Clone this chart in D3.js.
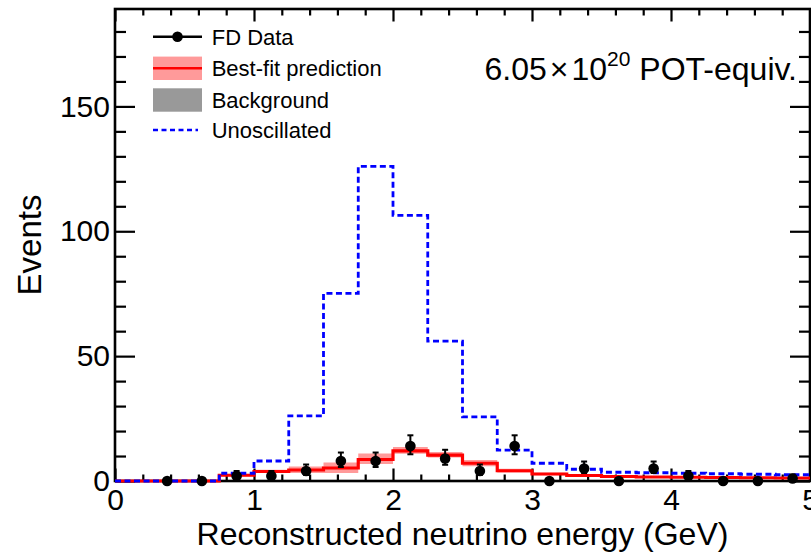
<!DOCTYPE html>
<html>
<head>
<meta charset="utf-8">
<script src="https://cdn.jsdelivr.net/npm/d3@7"></script>
<style>
  html, body { margin: 0; padding: 0; background: #fff; }
  svg { display: block; font-family: "Liberation Sans", Arial, Helvetica, sans-serif; }
</style>
</head>
<body>
<svg id="chart" width="811" height="555"></svg>
<script>
// ---- Data ----
const binEdges = [0, 0.25, 0.5, 0.75, 1, 1.25, 1.5, 1.75, 2, 2.25, 2.5, 2.75, 3, 3.25, 3.5, 3.75, 4, 4.25, 4.5, 4.75, 5];
const bestFit    = [0, 0, 0, 2.3, 3.8, 4.4, 5.2, 8.6, 12.1, 10.4, 7.1, 4.1, 2.8, 2.2, 1.8, 1.6, 1.5, 1.4, 1.3, 1.2];
const bandLow    = [0, 0, 0, 1.9, 3.2, 3.2, 3.2, 6.8, 10.9, 9.4, 5.9, 3.4, 2.3, 1.8, 1.4, 1.3, 1.2, 1.1, 1.0, 0.9];
const bandHigh   = [0, 0, 0, 2.7, 4.5, 5.8, 7.4, 11.0, 13.6, 11.6, 8.4, 4.9, 3.3, 2.6, 2.2, 1.9, 1.8, 1.7, 1.6, 1.5];
const background = [0, 0, 0, 0.2, 0.3, 0.3, 0.3, 0.4, 0.4, 0.4, 0.4, 0.3, 0.3, 0.3, 0.3, 0.2, 0.2, 0.2, 0.2, 0.2];
const unoscillated = [0, 0, 0, 3.1, 8.0, 26.1, 75.1, 126.0, 106.4, 56.0, 25.7, 12.4, 7.1, 4.7, 3.5, 3.3, 3.1, 2.9, 2.7, 2.5];
const fdData     = [null, 0, 0, 2, 2, 4, 8, 8, 14, 9, 4, 14, 0, 5, 0, 5, 2, 0, 0, 1];
const errUp      = [0, 0, 0, 2.0, 2.0, 2.6, 3.4, 3.4, 4.3, 3.5, 2.6, 4.3, 0, 2.8, 0, 2.8, 2.0, 0, 0, 1.6];
const errDown    = [0, 0, 0, 1.0, 1.0, 1.6, 2.4, 2.4, 3.3, 2.5, 1.6, 3.3, 0, 1.8, 0, 1.8, 1.0, 0, 0, 0.6];
const xMajorTicks = [0, 1, 2, 3, 4, 5];
const yMajorTicks = [0, 50, 100, 150];
const legendLabels = ["FD Data", "Best-fit prediction", "Background", "Unoscillated"];

// ---- Layout ----
const svg = d3.select("#chart");
const L = 115, R = 810, T = 9, B = 481;
const x = d3.scaleLinear().domain([0, 5]).range([L, R]);
const y = d3.scaleLinear().domain([0, 189]).range([B, T]);

const FONT = "'Liberation Sans', Arial, Helvetica, sans-serif";

function stepPoints(vals) {
  const pts = vals.map((v, i) => [binEdges[i], v]);
  pts.push([binEdges[binEdges.length - 1], vals[vals.length - 1]]);
  return pts;
}
const stepLine = d3.line().x(d => x(d[0])).y(d => y(d[1])).curve(d3.curveStepAfter);

svg.append("defs").append("clipPath").attr("id", "plotclip")
  .append("rect").attr("x", L).attr("y", T - 2).attr("width", R - L + 2).attr("height", B - T + 4);

const g = svg.append("g").attr("clip-path", "url(#plotclip)");

// uncertainty band
const bandArea = d3.area()
  .x(d => x(d[0]))
  .y0(d => y(d[1]))
  .y1(d => y(d[2]))
  .curve(d3.curveStepAfter);
const bandPts = bandLow.map((v, i) => [binEdges[i], v, bandHigh[i]]);
bandPts.push([binEdges[binEdges.length - 1], bandLow[bandLow.length - 1], bandHigh[bandHigh.length - 1]]);
g.append("path").attr("d", bandArea(bandPts)).attr("fill", "#ff9a9a").attr("stroke", "none");

// background
const bgArea = d3.area().x(d => x(d[0])).y0(y(0)).y1(d => y(d[1])).curve(d3.curveStepAfter);
g.append("path").attr("d", bgArea(stepPoints(background))).attr("fill", "#999999");

// ---- Axes / frame ----
const axG = svg.append("g").attr("font-family", FONT);
function styleAxis(sel) {
  sel.select(".domain").remove();
  sel.selectAll(".tick line").attr("stroke", "#000").attr("stroke-width", 2.2);
}
const xMinor = d3.range(0, 5.0001, 0.2).map(v => +v.toFixed(2)).filter(v => !xMajorTicks.includes(v));
const yMinor = d3.range(0, 189, 10).filter(v => !yMajorTicks.includes(v));

axG.append("g").attr("transform", `translate(0,${B})`)
  .call(d3.axisBottom(x).tickValues(xMinor).tickSize(-6.5).tickFormat(""))
  .call(styleAxis);
const xb = axG.append("g").attr("transform", `translate(0,${B})`)
  .call(d3.axisBottom(x).tickValues(xMajorTicks).tickSize(-12.5).tickPadding(8).tickFormat(d3.format("d")))
  .call(styleAxis);
xb.selectAll(".tick text").attr("font-size", 30).attr("fill", "#000").attr("font-family", FONT);
axG.append("g").attr("transform", `translate(0,${T})`)
  .call(d3.axisTop(x).tickValues(xMinor).tickSize(-6.5).tickFormat(""))
  .call(styleAxis);
axG.append("g").attr("transform", `translate(0,${T})`)
  .call(d3.axisTop(x).tickValues(xMajorTicks).tickSize(-12.5).tickFormat(""))
  .call(styleAxis);
axG.append("g").attr("transform", `translate(${L},0)`)
  .call(d3.axisLeft(y).tickValues(yMinor).tickSize(-11).tickFormat(""))
  .call(styleAxis);
const yl = axG.append("g").attr("transform", `translate(${L},0)`)
  .call(d3.axisLeft(y).tickValues(yMajorTicks).tickSize(-20).tickPadding(5).tickFormat(d3.format("d")))
  .call(styleAxis);
yl.selectAll(".tick text").attr("font-size", 30).attr("fill", "#000").attr("font-family", FONT);
axG.append("g").attr("transform", `translate(${R},0)`)
  .call(d3.axisRight(y).tickValues(yMinor).tickSize(-11).tickFormat(""))
  .call(styleAxis);
axG.append("g").attr("transform", `translate(${R},0)`)
  .call(d3.axisRight(y).tickValues(yMajorTicks).tickSize(-20).tickFormat(""))
  .call(styleAxis);

svg.append("rect").attr("x", L).attr("y", T).attr("width", R - L).attr("height", B - T)
  .attr("fill", "none").attr("stroke", "#000").attr("stroke-width", 2.6);

// ---- Histograms on top ----
const g2 = svg.append("g").attr("clip-path", "url(#plotclip)");
g2.append("path").attr("d", stepLine(stepPoints(bestFit)))
  .attr("fill", "none").attr("stroke", "#ff0000").attr("stroke-width", 3.2);
g2.append("path").attr("d", stepLine(stepPoints(unoscillated)))
  .attr("fill", "none").attr("stroke", "#0000ff").attr("stroke-width", 2.8)
  .attr("stroke-dasharray", "6,3.5");

// data points
const pts = fdData.map((v, i) => ({ v, i })).filter(d => d.v !== null);
const dataG = svg.append("g");
pts.forEach(d => {
  const cx = x((binEdges[d.i] + binEdges[d.i + 1]) / 2);
  const cy = y(d.v);
  if (errUp[d.i] > 0) {
    const yt = y(d.v + errUp[d.i]), yb = y(d.v - errDown[d.i]);
    dataG.append("line").attr("x1", cx).attr("x2", cx).attr("y1", yt).attr("y2", yb)
      .attr("stroke", "#000").attr("stroke-width", 2);
    dataG.append("line").attr("x1", cx - 3).attr("x2", cx + 3).attr("y1", yt).attr("y2", yt)
      .attr("stroke", "#000").attr("stroke-width", 2);
    dataG.append("line").attr("x1", cx - 3).attr("x2", cx + 3).attr("y1", yb).attr("y2", yb)
      .attr("stroke", "#000").attr("stroke-width", 2);
  }
  dataG.append("circle").attr("cx", cx).attr("cy", cy).attr("r", 5.3).attr("fill", "#000");
});

// ---- Axis titles ----
svg.append("text").attr("x", (L + R) / 2).attr("y", 545).attr("text-anchor", "middle")
  .attr("font-size", 32).attr("font-family", FONT).attr("fill", "#000")
  .text("Reconstructed neutrino energy (GeV)");
svg.append("text").attr("transform", `translate(41,${(T + B) / 2}) rotate(-90)`)
  .attr("text-anchor", "middle").attr("font-size", 33).attr("font-family", FONT).attr("fill", "#000")
  .text("Events");

// ---- Legend ----
const lg = svg.append("g").attr("font-family", FONT);
const rowY = [36.7, 68.3, 100, 130];
const symX0 = 153, symX1 = 202, textX = 211.7;
lg.append("line").attr("x1", symX0).attr("x2", symX1).attr("y1", rowY[0]).attr("y2", rowY[0])
  .attr("stroke", "#000").attr("stroke-width", 2.5);
lg.append("circle").attr("cx", (symX0 + symX1) / 2).attr("cy", rowY[0]).attr("r", 5.3).attr("fill", "#000");
lg.append("rect").attr("x", symX0).attr("y", rowY[1] - 11.7).attr("width", symX1 - symX0).attr("height", 23.4)
  .attr("fill", "#ff9a9a");
lg.append("line").attr("x1", symX0).attr("x2", symX1).attr("y1", rowY[1]).attr("y2", rowY[1])
  .attr("stroke", "#ff0000").attr("stroke-width", 2.5);
lg.append("rect").attr("x", symX0).attr("y", rowY[2] - 11.7).attr("width", symX1 - symX0).attr("height", 23.4)
  .attr("fill", "#999999");
lg.append("line").attr("x1", symX0).attr("x2", 198).attr("y1", rowY[3]).attr("y2", rowY[3])
  .attr("stroke", "#0000ff").attr("stroke-width", 2.5).attr("stroke-dasharray", "5,3.5");
legendLabels.forEach((t, i) => {
  lg.append("text").attr("x", textX).attr("y", rowY[i]).attr("dy", "0.36em")
    .attr("font-size", 22).attr("fill", "#000").text(t);
});

// ---- POT label ----
const pot = svg.append("text").attr("x", 797).attr("y", 80).attr("text-anchor", "end")
  .attr("font-family", FONT).attr("font-size", 32).attr("fill", "#000");
pot.append("tspan").text("6.05");
pot.append("tspan").attr("dx", 3).text("×");
pot.append("tspan").attr("dx", 3).text("10");
pot.append("tspan").attr("font-size", 21).attr("dy", -14).text("20");
pot.append("tspan").attr("dy", 14).text(" POT-equiv.");
</script>
</body>
</html>
